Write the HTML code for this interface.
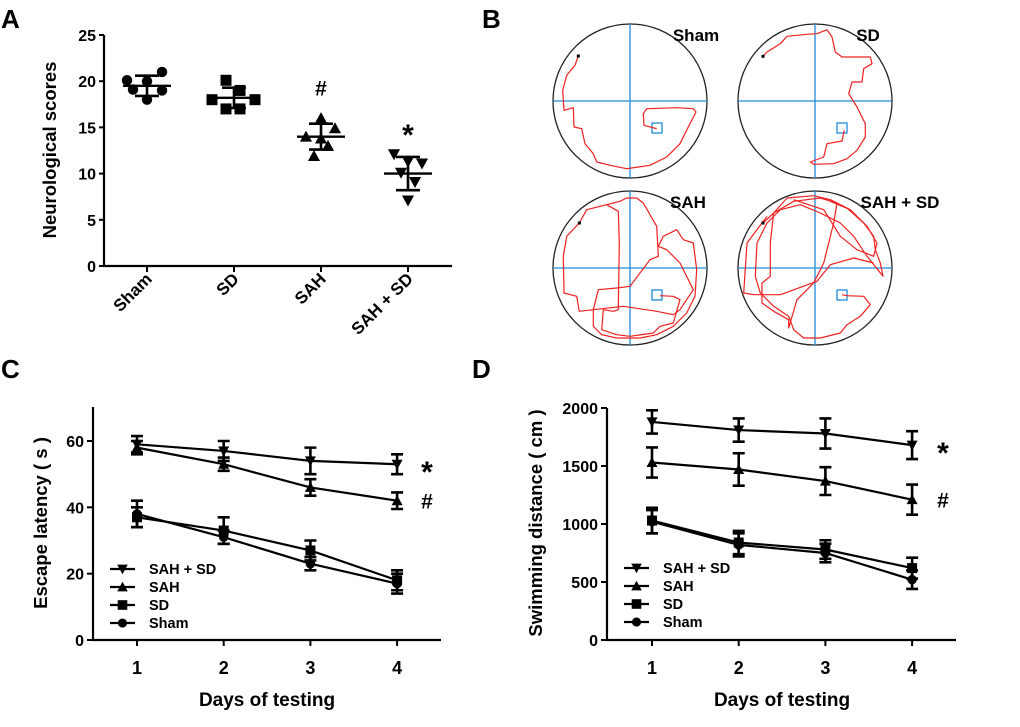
<!DOCTYPE html>
<html><head><meta charset="utf-8">
<style>
html,body{margin:0;padding:0;background:#fff;}
svg{display:block;font-family:"Liberation Sans",sans-serif;font-weight:bold;}
</style></head>
<body>
<svg id="fig" width="1020" height="727" viewBox="0 0 1020 727" xmlns="http://www.w3.org/2000/svg">
<rect width="1020" height="727" fill="#fff"/>
<text x="1" y="28" font-size="26">A</text>
<text x="482" y="28" font-size="26">B</text>
<text x="1" y="378" font-size="26">C</text>
<text x="472" y="378" font-size="26">D</text>
<g id="gA"></g>
<g id="gB"></g>
<g id="gC"></g>
<g id="gD"></g>
</svg>
<script>
const NS="http://www.w3.org/2000/svg";
function mk(parent,tag,attrs,text){const e=document.createElementNS(NS,tag);for(const k in attrs)e.setAttribute(k,attrs[k]);if(text!==undefined)e.textContent=text;parent.appendChild(e);return e;}

/* ---------- Panel A data ---------- */
const groupsA=["Sham","SD","SAH","SAH + SD"];
const shamScores=[20.1,21.0,19.1,19.0,18.0,20.0];
const sdScores=[20.1,19.0,18.0,18.0,17.0,17.0];
const sahScores=[16.0,14.9,14.0,13.8,13.0,11.9];
const sahSdScores=[12.1,11.1,11.3,10.1,9.1,7.1];
const meanA=[19.5,18.2,14.0,10.0];
const sdA=[1.1,1.1,1.4,1.8];
const ticksA=[0,5,10,15,20,25];
const jitterA=[[-20,15,-14,15,0,0],[-8,6,-22,21,-8,6],[0,14,-15,0,7,-7],[-14,14,0,-7,7,0]];

/* ---------- Panel C data ---------- */
const days=[1,2,3,4];
const seriesNames=["SAH + SD","SAH","SD","Sham"];
const latSahSd=[59,57,54,53];
const latSah=[58,53,46,42];
const latSd=[37,33,27,18];
const latSham=[38,31,23,17];
const latErrSahSd=[2.5,3,4,3];
const latErrSah=[2,2,2.5,2.5];
const latErrSd=[3,4,3,3];
const latErrSham=[4,2,2,3];
const ticksC=[0,20,40,60];

/* ---------- Panel D data ---------- */
const distSahSd=[1880,1810,1780,1680];
const distSah=[1530,1470,1370,1210];
const distSd=[1030,840,780,620];
const distSham=[1020,820,750,520];
const distErrSahSd=[100,100,130,120];
const distErrSah=[130,140,120,130];
const distErrSd=[110,100,80,90];
const distErrSham=[100,100,80,80];
const ticksD=[0,500,1000,1500,2000];

function marker(g,type,x,y,s){
  let e;
  if(type==="circle"){e=mk(g,"circle",{cx:x,cy:y,r:s*0.95,fill:"#000"});}
  else if(type==="square"){e=mk(g,"rect",{x:x-s,y:y-s,width:2*s,height:2*s,fill:"#000"});}
  else if(type==="up"){e=mk(g,"polygon",{points:`${x},${y-s*1.1} ${x-s*1.1},${y+s*0.9} ${x+s*1.1},${y+s*0.9}`,fill:"#000"});}
  else {e=mk(g,"polygon",{points:`${x},${y+s*1.1} ${x-s*1.1},${y-s*0.9} ${x+s*1.1},${y-s*0.9}`,fill:"#000"});}
  return e;
}

/* ---------- Panel A ---------- */
(function(){
  const g=document.getElementById("gA");
  const x0=104,y0=266,yTop=35,xEnd=452;
  const yS=v=>y0-(v/25)*(y0-yTop);
  const xS=i=>147+i*87;
  const ax=mk(g,"path",{d:`M${x0},${yTop} V${y0} H${xEnd}`,stroke:"#000","stroke-width":2.2,fill:"none"});
  
  
  ticksA.forEach(t=>{
    mk(g,"line",{x1:x0-5,x2:x0,y1:yS(t),y2:yS(t),stroke:"#000","stroke-width":2});
    const tl=mk(g,"text",{x:x0-8,y:yS(t)+6,"text-anchor":"end","font-size":16},String(t));
    
    
  });
  const yt=mk(g,"text",{transform:"translate(56,150) rotate(-90)","text-anchor":"middle","font-size":18.5},"Neurological scores");
  
  
  const all=[shamScores,sdScores,sahScores,sahSdScores];
  const types=["circle","square","up","down"];
  groupsA.forEach((n,i)=>{
    const cx=xS(i);
    mk(g,"line",{x1:cx,x2:cx,y1:y0,y2:y0+6,stroke:"#000","stroke-width":2});
    const lb=mk(g,"text",{transform:`translate(${cx+6},${y0+14}) rotate(-45)`,"text-anchor":"end","font-size":17},n);
    
    
    all[i].forEach((v,j)=>{
      const m=marker(g,types[i],cx+jitterA[i][j],yS(v),5.5);
      
      
    });
    const mean=mk(g,"line",{x1:cx-24,x2:cx+24,y1:yS(meanA[i]),y2:yS(meanA[i]),stroke:"#000","stroke-width":2.4});
    
    
    const hi=yS(meanA[i]+sdA[i]),lo=yS(meanA[i]-sdA[i]);
    mk(g,"path",{d:`M${cx},${hi}V${lo}M${cx-12},${hi}H${cx+12}M${cx-12},${lo}H${cx+12}`,stroke:"#000","stroke-width":2.6,fill:"none"});
  });
  const h=mk(g,"text",{x:xS(2),y:yS(19.3)+8,"text-anchor":"middle","font-size":21},"#");
  
  
  const s=mk(g,"text",{x:xS(3),y:yS(14.7)+15,"text-anchor":"middle","font-size":30},"*");
  
  
})();

/* ---------- Panel B ---------- */
(function(){
  const g=document.getElementById("gB");
  const R=77;
  const panels=[
    {name:"Sham",cx:630,cy:101,zc:[270,272],lx:696,pts:[[[115,137],[105,165],[80,195],[68,240],[72,300],[100,292],[102,350],[125,355],[135,400],[160,430],[170,455],[210,465],[260,475],[330,465],[380,440],[420,400],[445,350],[468,305],[460,295],[410,292],[320,295],[310,310],[312,345],[350,355]]]},
    {name:"SD",cx:815,cy:101,zc:[824,272],lx:868,pts:[[[668,138],[680,125],[720,100],[740,78],[800,72],[830,70],[860,58],[875,80],[885,125],[905,140],[990,140],[995,160],[970,175],[965,215],[935,215],[925,250],[950,290],[975,340],[975,380],[950,420],[920,445],[880,460],[820,462],[810,455],[850,440],[860,400],[905,392],[912,360]]]},
    {name:"SAH",cx:630,cy:268,zc:[270,775],lx:688,pts:[
      [[118,640],[80,680],[70,740],[72,850],[110,860],[118,905],[160,900],[175,840],[230,835],[270,830],[330,750],[355,740],[350,650],[310,580],[290,565],[260,565],[240,575],[200,585],[140,600],[118,640]],
      [[200,585],[235,605],[238,700],[235,900],[220,905],[190,900],[185,960],[230,975],[270,980],[340,970],[360,950],[400,940],[420,870],[400,860],[360,858]],
      [[355,710],[370,680],[410,660],[430,690],[460,700],[470,780],[465,860],[440,910],[400,950],[350,975],[300,985],[230,985],[185,975],[160,950],[160,900],[250,890],[350,905],[400,915],[420,900],[460,840],[420,760],[380,720],[355,710]]]},
    {name:"SAH + SD",cx:815,cy:268,zc:[824,775],lx:900,pts:[
      [[668,640],[700,610],[740,565],[820,558],[870,570],[920,595],[970,640],[1000,680],[1005,720],[1020,760],[1028,800],[980,740],[940,680],[900,640],[840,610],[780,585],[720,600],[680,640],[650,700],[645,800],[660,850],[700,890],[745,920],[760,960],[790,985],[840,985],[900,970],[920,945],[960,920],[990,885],[970,860],[920,858],[905,855]],
      [[680,620],[620,700],[610,850],[640,855],[720,855],[830,815],[870,765],[940,745],[1000,760]],
      [[700,610],[690,700],[690,800],[665,820],[665,880],[700,905],[745,930],[745,955],[770,870],[820,820],[850,760],[880,640],[890,580],[840,565],[760,575],[700,610]],
      [[760,570],[850,600],[900,680],[950,720],[1000,740],[1010,700],[980,650],[930,600],[870,575]]]}
  ];
  panels.forEach(p=>{
    const pg=mk(g,"g",{});
    
    
    mk(pg,"circle",{cx:p.cx,cy:p.cy,r:R,fill:"none",stroke:"#222","stroke-width":1.3});
    mk(pg,"line",{x1:p.cx-R,x2:p.cx+R,y1:p.cy,y2:p.cy,stroke:"#1f8ad8","stroke-width":1.3});
    mk(pg,"line",{x1:p.cx,x2:p.cx,y1:p.cy-R,y2:p.cy+R,stroke:"#1f8ad8","stroke-width":1.3});
    mk(pg,"rect",{x:p.cx+22,y:p.cy+22,width:10,height:10,fill:"none",stroke:"#1f8ad8","stroke-width":1.3});
    p.pts.forEach(line=>{
      const d=line.map((q,k)=>(k?"L":"M")+(p.cx+(q[0]-p.zc[0])/3).toFixed(1)+","+(p.cy+(q[1]-p.zc[1])/3).toFixed(1)).join("");
      mk(pg,"path",{d:d,fill:"none",stroke:"#f02020","stroke-width":1.2,"stroke-linejoin":"round"});
    });
    const s=p.pts[0][0];
    mk(pg,"rect",{x:p.cx+(s[0]-p.zc[0])/3-1.5,y:p.cy+(s[1]-p.zc[1])/3-1.5,width:3,height:3,fill:"#000"});
    const t=mk(pg,"text",{x:p.lx,y:p.cy-60,"text-anchor":"middle","font-size":17},p.name);
    
    
  });
})();

/* ---------- Line charts ---------- */
function lineChart(gid,cfg){
  const g=document.getElementById(gid);
  const yS=v=>cfg.y0-(v/cfg.yMax)*(cfg.y0-cfg.yMaxPx);
  const xS=d=>cfg.x1+(d-1)*cfg.dx;
  const ax=mk(g,"path",{d:`M${cfg.x0},${cfg.yTop} V${cfg.y0} H${cfg.xEnd}`,stroke:"#000","stroke-width":2.2,fill:"none"});
  
  
  cfg.ticks.forEach(t=>{
    mk(g,"line",{x1:cfg.x0-6,x2:cfg.x0,y1:yS(t),y2:yS(t),stroke:"#000","stroke-width":2});
    const tl=mk(g,"text",{x:cfg.x0-9,y:yS(t)+6,"text-anchor":"end","font-size":16},String(t));
    
    
  });
  days.forEach(d=>{
    mk(g,"line",{x1:xS(d),x2:xS(d),y1:cfg.y0,y2:cfg.y0+6,stroke:"#000","stroke-width":2});
    const tl=mk(g,"text",{x:xS(d),y:cfg.y0+34,"text-anchor":"middle","font-size":18},String(d));
    
    
  });
  const xt=mk(g,"text",{x:(cfg.x1+xS(4))/2,y:cfg.y0+66,"text-anchor":"middle","font-size":19},"Days of testing");
  
  
  const yt=mk(g,"text",{transform:`translate(${cfg.ytx},523) rotate(-90)`,"text-anchor":"middle","font-size":18.5},cfg.yTitle);
  
  
  const types=["down","up","square","circle"];
  cfg.series.forEach((vals,si)=>{
    const sg=mk(g,"g",{});
    
    
    mk(sg,"polyline",{points:vals.map((v,i)=>xS(days[i])+","+yS(v)).join(" "),fill:"none",stroke:"#000","stroke-width":2.2});
    vals.forEach((v,i)=>{
      const x=xS(days[i]),e=cfg.errs[si][i];
      const hi=yS(v+e),lo=yS(v-e);
      mk(sg,"path",{d:`M${x},${hi}V${lo}M${x-6},${hi}H${x+6}M${x-6},${lo}H${x+6}`,stroke:"#000","stroke-width":2.6,fill:"none"});
      const m=marker(sg,types[si],x,yS(v),5);
      
      
    });
  });
  seriesNames.forEach((n,i)=>{
    const y=cfg.legY+i*18;
    const lg=mk(g,"g",{});
    
    
    mk(lg,"line",{x1:cfg.legX,x2:cfg.legX+25,y1:y,y2:y,stroke:"#000","stroke-width":2.2});
    marker(lg,types[i],cfg.legX+12.5,y,4.8);
    mk(lg,"text",{x:cfg.legX+39,y:y+5,"font-size":14.5},n);
  });
  const s=mk(g,"text",{x:cfg.annX,y:yS(cfg.series[0][3])+18,"text-anchor":"middle","font-size":30},"*");
  
  
  const h=mk(g,"text",{x:cfg.annX,y:yS(cfg.series[1][3])+8,"text-anchor":"middle","font-size":21},"#");
  
  
}
lineChart("gC",{x0:93,yTop:407,y0:640,yMax:60,yMaxPx:441,xEnd:441,x1:137,dx:86.7,ticks:ticksC,
  yTitle:"Escape latency ( s )",ytx:47,legX:110,legY:569,annX:427,
  series:[latSahSd,latSah,latSd,latSham],errs:[latErrSahSd,latErrSah,latErrSd,latErrSham]});
lineChart("gD",{x0:607,yTop:408,y0:640,yMax:2000,yMaxPx:408,xEnd:956,x1:652,dx:86.7,ticks:ticksD,
  yTitle:"Swimming distance ( cm )",ytx:542,legX:624,legY:568,annX:943,
  series:[distSahSd,distSah,distSd,distSham],errs:[distErrSahSd,distErrSah,distErrSd,distErrSham]});
</script>
</body></html>
